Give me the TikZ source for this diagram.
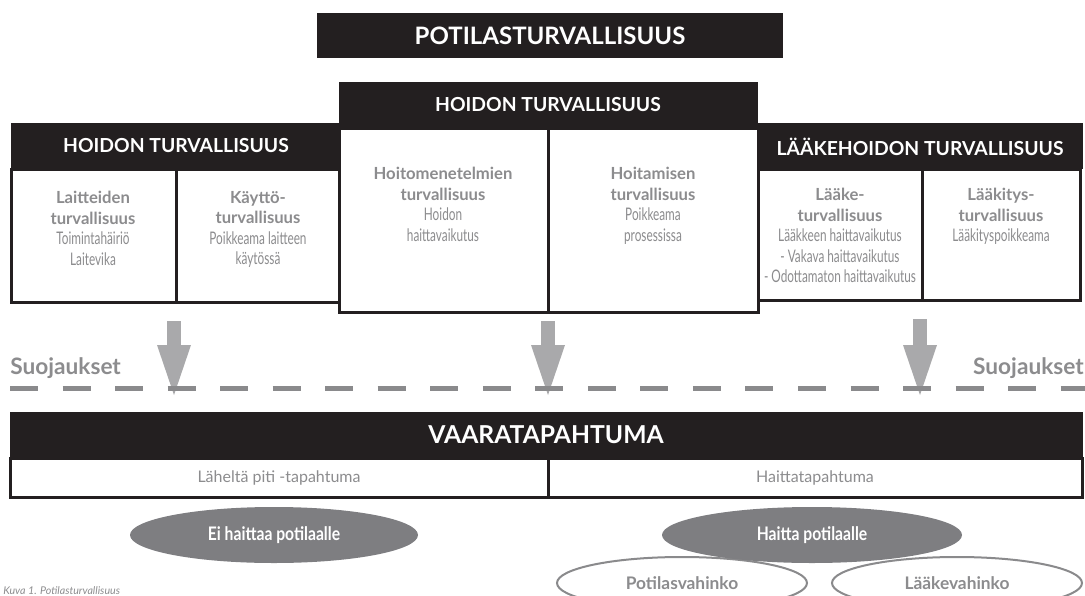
\documentclass[tikz,border=0pt]{standalone}
\usepackage{fontspec}
\setmainfont{Lato}
\newfontfamily\condfont{Lato}[FakeStretch=0.68]
\newfontfamily\bcondfont{Lato}[FakeStretch=0.84]
\usetikzlibrary{shapes.geometric,arrows.meta}
\definecolor{barblack}{HTML}{231F20}
\definecolor{txtgray}{HTML}{8C8C8E}
\definecolor{arrgray}{HTML}{A9A9AB}
\definecolor{ellgray}{HTML}{7E7E81}
\definecolor{linegray}{HTML}{8A8A8C}
\newcommand\tfont{\bfseries\fontsize{12.5}{15.4}\selectfont}
\newcommand\sfont{\condfont\fontsize{13}{15.4}\selectfont}

\begin{document}
\begin{tikzpicture}[x=0.75pt, y=-0.75pt,
  hdbar/.style={fill=barblack},
  hdtext/.style={text=white, inner sep=0, font=\bfseries\fontsize{14.5}{17}\selectfont},
  cell/.style={draw=barblack, line width=2.25pt, fill=white},
  celltext/.style={text=txtgray, align=center, anchor=north, inner sep=0, font=\fontsize{12}{15.4}\selectfont},
  blockarrow/.style={draw=arrgray, line width=10.5pt, -{Triangle[width=25.5pt, length=37.5pt, line width=0pt]}},
  harm/.style={ellipse, fill=ellgray, text=white, minimum width=216pt, minimum height=42pt, font=\bcondfont\bfseries\fontsize{14}{16}\selectfont},
  damage/.style={ellipse, draw=linegray, line width=1.5pt, fill=white, text=txtgray, minimum width=187.5pt, minimum height=39pt, font=\bfseries\fontsize{13}{15}\selectfont},
  rowtext/.style={text=txtgray, font=\fontsize{12}{14}\selectfont}]
\useasboundingbox (0,0) rectangle (1085,596);

\fill[hdbar] (317,13) rectangle (783,58);
\node[hdtext, font=\bfseries\fontsize{18}{20}\selectfont] (potilas) at (550,36) {POTILASTURVALLISUUS};

\fill[hdbar] (11,123) rectangle (342,169);
\draw[cell] (11,169) rectangle (339,302);
\draw[barblack, line width=2.25pt] (176,169) -- (176,302);
\node[hdtext] (hoitoL) at (176,146) {HOIDON TURVALLISUUS};
\node[celltext] (laite) at (93,191) {{\tfont Laitteiden}\\{\tfont turvallisuus}\\{\sfont Toimintahäiriö}\\{\sfont Laitevika}};
\node[celltext] (kaytto) at (258,191) {{\tfont Käyttö-}\\{\tfont turvallisuus}\\{\sfont Poikkeama laitteen}\\{\sfont käytössä}};

\fill[hdbar] (757,123) rectangle (1083,169);
\draw[cell] (757,169) rectangle (1080,300);
\draw[barblack, line width=2.25pt] (922,169) -- (922,300);
\node[hdtext] (laakehoito) at (920,147) {LÄÄKEHOIDON TURVALLISUUS};
\node[celltext] (laake) at (840,188) {{\tfont Lääke-}\\{\tfont turvallisuus}\\{\sfont Lääkkeen haittavaikutus}\\{\sfont - Vakava haittavaikutus}\\{\sfont - Odottamaton haittavaikutus}};
\node[celltext] (laakitys) at (1001,188) {{\tfont Lääkitys-}\\{\tfont turvallisuus}\\{\sfont Lääkityspoikkeama}};

\fill[hdbar] (339,82) rectangle (758,128);
\draw[cell] (339,128) rectangle (758,312);
\draw[barblack, line width=2.25pt] (548,128) -- (548,312);
\node[hdtext] (hoitoM) at (548,105) {HOIDON TURVALLISUUS};
\node[celltext] (menetelma) at (443,167) {{\tfont Hoitomenetelmien}\\{\tfont turvallisuus}\\{\sfont Hoidon}\\{\sfont haittavaikutus}};
\node[celltext] (hoitaminen) at (653,167) {{\tfont Hoitamisen}\\{\tfont turvallisuus}\\{\sfont Poikkeama}\\{\sfont prosessissa}};

\coordinate (a1s) at (174,321); \coordinate (a1e) at (174,395);
\coordinate (a2s) at (548,321); \coordinate (a2e) at (548,395);
\coordinate (a3s) at (920,319); \coordinate (a3e) at (920,395);
\draw[blockarrow] (a1s) -- (a1e);
\draw[blockarrow] (a2s) -- (a2e);
\draw[blockarrow] (a3s) -- (a3e);

\coordinate (dl) at (10,388); \coordinate (dr) at (1085,388);
\draw[linegray, line width=3.75pt, dash pattern=on 21pt off 18.4pt] (dl) -- (dr);
\node[anchor=base west, inner sep=0, text=txtgray, font=\bfseries\fontsize{17}{20}\selectfont] (suojL) at (10,374) {Suojaukset};
\node[anchor=base east, inner sep=0, text=txtgray, font=\bfseries\fontsize{17}{20}\selectfont] (suojR) at (1084,374) {Suojaukset};

\fill[hdbar] (10,412) rectangle (1083,458);
\node[hdtext, font=\bfseries\fontsize{18.5}{20}\selectfont] (vaara) at (546,435) {VAARATAPAHTUMA};
\draw[cell] (10,458) rectangle (1082,497);
\draw[barblack, line width=2.25pt] (548,458) -- (548,497);
\node[rowtext] (lahelta) at (279,478) {Läheltä piti -tapahtuma};
\node[rowtext] (haittatap) at (815,478) {Haittatapahtuma};

\node[harm] (eihaitta) at (274,535) {Ei haittaa potilaalle};
\node[damage] (potilasv) at (682,583) {Potilasvahinko};
\node[damage] (laakev) at (957,583) {Lääkevahinko};
\node[harm, minimum width=225pt] (haitta) at (812,535) {Haitta potilaalle};

\node[anchor=base west, inner sep=0, text=txtgray, font=\itshape\fontsize{8}{9}\selectfont] (kuva) at (3,594) {Kuva 1. Potilasturvallisuus};
\end{tikzpicture}
\end{document}
